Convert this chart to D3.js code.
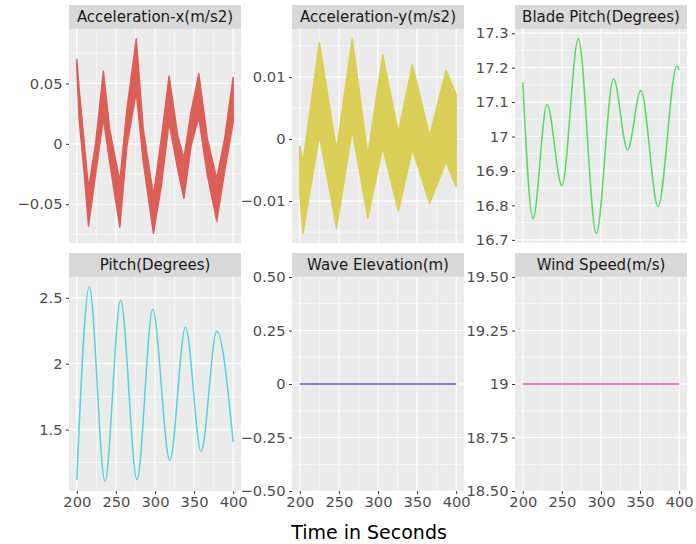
<!DOCTYPE html>
<html>
<head>
<meta charset="utf-8">
<script src="https://cdn.jsdelivr.net/npm/d3@7"></script>
<style>
  body { margin: 0; background: #fff; }
  svg { display: block; font-family: "DejaVu Sans", sans-serif; }
</style>
</head>
<body>
<div id="chart"></div>
<script>
// values
const timeTicks = [200, 250, 300, 350, 400];
const timeLabels = ["200", "250", "300", "350", "400"];

// acceleration signals carry a fast oscillation, so keep the band edges
const accXTime = [200, 203, 209, 215, 224, 234, 242, 255, 264, 276, 285, 298, 308, 318, 329, 337, 346, 356, 367, 379, 389, 400];
const accXHigh = [0.070, 0.045, 0.004, -0.037, 0.000, 0.060, 0.012, -0.031, 0.028, 0.087, 0.012, -0.043, 0.004, 0.056, 0.007, -0.012, 0.026, 0.058, 0.004, -0.029, 0.004, 0.055];
const accXLow = [0.062, 0.020, -0.021, -0.068, -0.025, 0.021, -0.015, -0.069, -0.002, 0.043, -0.015, -0.074, -0.035, 0.018, -0.021, -0.045, -0.002, 0.022, -0.026, -0.064, -0.023, 0.018];
const accXTicks = [-0.05, 0, 0.05];
const accXLabels = ["\u22120.05", "0", "0.05"];

const accYTime = [200, 204, 225, 247, 267, 287, 306, 326, 344, 366, 387, 400];
const accYHigh = [-0.0011, -0.0037, 0.0156, -0.0018, 0.0162, -0.0026, 0.0136, 0.0011, 0.0120, 0.0005, 0.0111, 0.0072];
const accYLow = [-0.0089, -0.0152, 0.0006, -0.0144, 0.0014, -0.0128, -0.0013, -0.0117, -0.0016, -0.0104, -0.0037, -0.0077];
const accYTicks = [-0.01, 0, 0.01];
const accYLabels = ["\u22120.01", "0", "0.01"];

const bladeTime = [200, 213, 231, 250, 271, 294, 316, 334, 351, 373, 397, 400];
const bladePitch = [17.157, 16.762, 17.093, 16.857, 17.284, 16.719, 17.168, 16.961, 17.134, 16.797, 17.204, 17.193];
const bladeTicks = [16.7, 16.8, 16.9, 17.0, 17.1, 17.2, 17.3];
const bladeLabels = ["16.7", "16.8", "16.9", "17", "17.1", "17.2", "17.3"];

const pitchTime = [200, 216, 236, 256, 277, 297, 319, 339, 359, 379, 400];
const pitchDeg = [1.120, 2.584, 1.108, 2.482, 1.120, 2.411, 1.265, 2.277, 1.335, 2.246, 1.405];
const pitchTicks = [1.5, 2, 2.5];
const pitchLabels = ["1.5", "2", "2.5"];

const waveTime = [200, 400];
const waveElev = [0, 0];
const waveTicks = [-0.5, -0.25, 0, 0.25, 0.5];
const waveLabels = ["\u22120.50", "\u22120.25", "0", "0.25", "0.50"];

const windTime = [200, 400];
const windSpeed = [19, 19];
const windTicks = [18.5, 18.75, 19, 19.25, 19.5];
const windLabels = ["18.50", "18.75", "19", "19.25", "19.50"];

const panels = [
  { title: "Acceleration-x(m/s2)", color: "#db5f57", time: accXTime, high: accXHigh, low: accXLow, ticks: accXTicks, labels: accXLabels },
  { title: "Acceleration-y(m/s2)", color: "#dbd057", time: accYTime, high: accYHigh, low: accYLow, ticks: accYTicks, labels: accYLabels },
  { title: "Blade Pitch(Degrees)", color: "#57db5f", time: bladeTime, values: bladePitch, ticks: bladeTicks, labels: bladeLabels },
  { title: "Pitch(Degrees)", color: "#57d3db", time: pitchTime, values: pitchDeg, ticks: pitchTicks, labels: pitchLabels },
  { title: "Wave Elevation(m)", color: "#5f57db", time: waveTime, values: waveElev, ticks: waveTicks, labels: waveLabels },
  { title: "Wind Speed(m/s)", color: "#db57d3", time: windTime, values: windSpeed, ticks: windTicks, labels: windLabels }
];

const width = 696, height = 544;
const colX = [69, 292, 515];
const rowY = [29, 277];
const panelW = 172, panelH = 214, stripH = 24;
const tickFont = 14.7;

const svg = d3.select("#chart").append("svg")
  .attr("width", width)
  .attr("height", height);

// ggplot style limits: 5% padding, or +-0.5 when the series is flat
function yDomain(p) {
  const vals = p.values ? p.values : p.high.concat(p.low);
  const [lo, hi] = d3.extent(vals);
  if (hi - lo === 0) return [lo - 0.5, hi + 0.5];
  const pad = (hi - lo) * 0.05;
  return [lo - pad, hi + pad];
}

function minorBreaks(ticks, domain) {
  const step = ticks[1] - ticks[0];
  const out = [];
  ticks.forEach((t) => {
    out.push(t - step / 2, t + step / 2);
  });
  return Array.from(new Set(out.map((v) => +v.toFixed(6))))
    .filter((v) => v > domain[0] && v < domain[1]);
}

const x = d3.scaleLinear().domain([190, 410]).range([0, panelW]);
const xMinor = minorBreaks(timeTicks, x.domain());

panels.forEach((p, i) => {
  const col = i % 3, row = Math.floor(i / 3);
  const g = svg.append("g")
    .attr("transform", `translate(${colX[col]},${rowY[row]})`);

  const y = d3.scaleLinear().domain(yDomain(p)).range([panelH, 0]);
  const yMinor = minorBreaks(p.ticks, y.domain());

  g.append("rect")
    .attr("width", panelW)
    .attr("height", panelH)
    .attr("fill", "#ebebeb");

  // minor grid
  g.selectAll(".hminor").data(yMinor).enter().append("line")
    .attr("x1", 0).attr("x2", panelW)
    .attr("y1", (d) => y(d)).attr("y2", (d) => y(d))
    .attr("stroke", "#fff").attr("stroke-width", 0.6);
  g.selectAll(".vminor").data(xMinor).enter().append("line")
    .attr("y1", 0).attr("y2", panelH)
    .attr("x1", (d) => x(d)).attr("x2", (d) => x(d))
    .attr("stroke", "#fff").attr("stroke-width", 0.6);

  // major grid
  g.selectAll(".hmajor").data(p.ticks).enter().append("line")
    .attr("x1", 0).attr("x2", panelW)
    .attr("y1", (d) => y(d)).attr("y2", (d) => y(d))
    .attr("stroke", "#fff").attr("stroke-width", 1.2);
  g.selectAll(".vmajor").data(timeTicks).enter().append("line")
    .attr("y1", 0).attr("y2", panelH)
    .attr("x1", (d) => x(d)).attr("x2", (d) => x(d))
    .attr("stroke", "#fff").attr("stroke-width", 1.2);

  // data
  if (p.values) {
    const line = d3.line()
      .x((d, j) => x(p.time[j]))
      .y((d) => y(d))
      .curve(d3.curveMonotoneX);
    g.append("path")
      .attr("d", line(p.values))
      .attr("fill", "none")
      .attr("stroke", p.color)
      .attr("stroke-width", 1.5);
  } else {
    const area = d3.area()
      .x((d, j) => x(p.time[j]))
      .y0((d, j) => y(p.low[j]))
      .y1((d) => y(d));
    g.append("path")
      .attr("d", area(p.high))
      .attr("fill", p.color)
      .attr("stroke", p.color)
      .attr("stroke-width", 1.5)
      .attr("stroke-linejoin", "round");
  }

  // strip
  g.append("rect")
    .attr("y", -stripH)
    .attr("width", panelW)
    .attr("height", stripH)
    .attr("fill", "#d9d9d9");
  g.append("text")
    .attr("x", panelW / 2)
    .attr("y", -stripH / 2)
    .attr("text-anchor", "middle")
    .attr("dominant-baseline", "central")
    .attr("font-size", 15)
    .attr("fill", "#1a1a1a")
    .text(p.title);

  // y axis
  const yAxis = g.append("g")
    .call(d3.axisLeft(y)
      .tickValues(p.ticks)
      .tickFormat((d, j) => p.labels[j])
      .tickSize(3)
      .tickPadding(3.5));
  yAxis.select(".domain").remove();
  yAxis.selectAll("line").attr("stroke", "#333");
  yAxis.selectAll("text")
    .attr("fill", "#4d4d4d")
    .attr("font-size", tickFont)
    .attr("font-family", "DejaVu Sans");

  // x axis on the bottom row only
  if (row === 1) {
    const xAxis = g.append("g")
      .attr("transform", `translate(0,${panelH})`)
      .call(d3.axisBottom(x)
        .tickValues(timeTicks)
        .tickFormat((d, j) => timeLabels[j])
        .tickSize(3)
        .tickPadding(3));
    xAxis.select(".domain").remove();
    xAxis.selectAll("line").attr("stroke", "#333");
    xAxis.selectAll("text")
      .attr("fill", "#4d4d4d")
      .attr("font-size", tickFont)
      .attr("font-family", "DejaVu Sans");
  }
});

svg.append("text")
  .attr("x", 369)
  .attr("y", 532)
  .attr("text-anchor", "middle")
  .attr("dominant-baseline", "central")
  .attr("font-size", 19)
  .attr("fill", "#000")
  .text("Time in Seconds");
</script>
</body>
</html>
